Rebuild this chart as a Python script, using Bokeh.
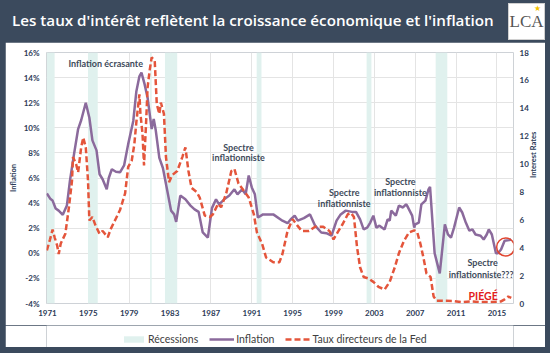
import math
from bokeh.plotting import figure
from bokeh.models import (Range1d, LinearAxis, FixedTicker, PrintfTickFormatter, Label,
                          Legend, LegendItem, Div, Spacer)
from bokeh.layouts import column, row
from bokeh.embed import file_html
from bokeh.resources import INLINE

# ---------------- data ----------------
infl_years = [1970.94, 1971.3, 1971.5, 1971.8, 1972.1, 1972.5, 1972.9, 1973.2, 1973.6, 1974.0,
              1974.3, 1974.75, 1975.1, 1975.4, 1975.8, 1976.1, 1976.4, 1976.8, 1977.0, 1977.3,
              1977.7, 1978.1, 1978.5, 1978.9, 1979.4, 1979.7, 1980.0, 1980.2, 1980.5, 1980.8,
              1981.2, 1981.4, 1981.6, 1981.95, 1982.3, 1982.7, 1983.1, 1983.4, 1983.6, 1984.0,
              1984.5, 1985.0, 1985.4, 1985.8, 1986.2, 1986.7, 1987.1, 1987.5, 1987.8, 1988.3,
              1988.8, 1989.3, 1989.6, 1990.05, 1990.4, 1990.7, 1991.0, 1991.3, 1991.6, 1992.1,
              1993.1, 1994.0, 1994.5, 1994.8, 1995.2, 1995.5, 1996.1, 1996.7, 1997.2, 1997.8,
              1998.3, 1998.8, 1999.3, 1999.7, 2000.2, 2000.8, 2001.2, 2001.6, 2001.95, 2002.3,
              2002.6, 2002.9, 2003.2, 2003.5, 2004.0, 2004.3, 2004.5, 2004.65, 2005.1, 2005.4,
              2005.8, 2006.1, 2006.2, 2006.7, 2006.9, 2007.0, 2007.35, 2007.6, 2008.0, 2008.3,
              2008.45, 2008.9, 2009.4, 2009.9, 2010.2, 2010.5, 2010.8, 2011.3, 2011.6, 2011.95,
              2012.3, 2012.6, 2012.9, 2013.4, 2013.7, 2014.0, 2014.2, 2014.5, 2014.9, 2015.1,
              2015.4, 2015.75, 2016.2, 2016.4]
infl_values = [4.77, 4.32, 4.2, 3.57, 3.4, 3.07, 3.8, 5.78, 7.9, 9.9,
               10.6, 12.0, 10.8, 9.0, 8.2, 6.3, 5.9, 5.1, 6.0, 6.7,
               6.5, 6.45, 7.0, 8.7, 10.55, 12.9, 14.1, 14.4, 13.5, 12.4,
               9.9, 10.7, 9.8, 7.6, 6.8, 5.1, 3.4, 3.1, 2.5, 4.6,
               4.3, 3.8, 3.5, 3.3, 1.66, 1.25, 3.6, 4.3, 3.9, 4.3,
               4.6, 5.1, 4.7, 5.1, 4.7, 6.2, 5.25, 4.7, 2.85, 3.1,
               3.1, 2.6, 2.4, 2.7, 3.0, 2.6, 2.8, 3.1, 2.2, 1.66,
               1.6, 1.4, 2.6, 3.1, 3.4, 3.3, 3.3, 2.7, 1.9, 2.05,
               2.45, 3.0, 2.05, 2.2, 1.9, 2.7, 2.6, 3.4, 3.0, 3.8,
               3.65, 3.9, 3.8, 3.0, 2.05, 2.3, 2.45, 3.9, 4.2, 5.1,
               5.3, 0.0, -1.6, 2.3, 1.5, 1.25, 2.05, 3.65, 3.25, 2.45,
               1.8, 1.9, 1.5, 1.4, 1.1, 1.5, 1.9, 1.5, 0.0, 0.0,
               0.3, 1.0, 1.05, 1.1]

fed_years = [1970.94, 1971.25, 1971.5, 1971.7, 1971.95, 1972.1, 1972.3, 1972.75, 1973.1, 1973.4,
             1973.5, 1973.8, 1974.0, 1974.3, 1974.5, 1974.75, 1974.97, 1975.1, 1975.4, 1975.7,
             1976.1, 1976.4, 1976.9, 1977.2, 1977.7, 1978.1, 1978.6, 1978.9, 1979.25, 1979.5,
             1979.7, 1980.0, 1980.1, 1980.3, 1980.45, 1980.65, 1980.8, 1981.0, 1981.2, 1981.5,
             1981.7, 1981.95, 1982.1, 1982.4, 1982.6, 1982.9, 1983.2, 1983.7, 1984.2, 1984.5,
             1984.8, 1985.1, 1985.6, 1985.9, 1986.4, 1986.9, 1987.2, 1987.7, 1988.0, 1988.5,
             1989.0, 1989.3, 1989.7, 1990.2, 1990.7, 1991.2, 1991.5, 1992.0, 1992.4, 1993.1,
             1993.7, 1994.0, 1994.5, 1995.0, 1995.45, 1995.9, 1996.6, 1997.2, 1998.0, 1998.6,
             1999.0, 1999.4, 1999.9, 2000.4, 2000.7, 2001.0, 2001.3, 2001.6, 2001.95, 2002.4,
             2002.9, 2003.4, 2004.0, 2004.5, 2005.0, 2005.4, 2005.9, 2006.4, 2006.9, 2007.2,
             2007.5, 2007.8, 2008.1, 2008.5, 2008.8, 2009.1, 2009.7, 2010.7, 2011.6, 2012.6,
             2013.5, 2014.5, 2015.4, 2015.75, 2016.1, 2016.4]
fed_values = [3.8, 4.6, 5.3, 4.75, 4.15, 3.55, 4.3, 5.0, 6.9, 8.8,
              10.5, 10.0, 9.4, 11.2, 11.9, 11.2, 8.8, 5.95, 6.2, 5.6,
              5.0, 5.2, 4.75, 5.35, 6.1, 6.7, 7.9, 9.8, 10.25, 11.4,
              13.0, 15.0, 13.6, 12.2, 9.9, 12.9, 15.5, 16.7, 17.65, 17.4,
              14.3, 13.6, 14.4, 13.6, 10.5, 8.7, 9.2, 9.5, 10.5, 11.2,
              9.5, 8.3, 8.0, 7.6, 6.3, 6.2, 6.4, 7.15, 6.9, 7.9,
              9.5, 9.65, 8.6, 8.1, 7.6, 6.4, 5.1, 4.3, 3.3, 2.96,
              2.96, 3.55, 5.2, 6.05, 5.6, 5.2, 5.2, 5.5, 5.5, 5.2,
              4.6, 5.1, 5.7, 6.4, 6.5, 6.2, 4.05, 2.6, 1.9, 1.8,
              1.55, 1.2, 1.0, 1.55, 2.6, 3.6, 4.5, 5.1, 5.25, 5.1,
              4.3, 3.3, 2.15, 1.9, 0.5, 0.2, 0.2, 0.18, 0.1, 0.15,
              0.1, 0.1, 0.15, 0.3, 0.5, 0.4]

recession_start = [1970.93, 1974.97, 1981.05, 1982.5, 1991.48, 2002.24, 2009.0]
recession_end = [1971.7, 1975.92, 1981.2, 1983.7, 1991.95, 2002.71, 2010.14]

x_ticks = [1971, 1975, 1979, 1983, 1987, 1991, 1995, 1999, 2003, 2007, 2011, 2015]
left_ticks = [-4, -2, 0, 2, 4, 6, 8, 10, 12, 14, 16]
right_ticks = [0, 2, 4, 6, 8, 10, 12, 14, 16, 18]

title_text = "Les taux d'intérêt reflètent la croissance économique et l'inflation"
legend_labels = ["Récessions", "Inflation", "Taux directeurs de la Fed"]

# ---------------- styling ----------------
DARK = "#3b4a5d"
NAVY = "#2c3b57"
PURPLE = "#8b6a9c"
RED = "#e4553b"
REC = "#e0f1ee"
GRID = "#e4e4e4"
ANN = "#3e4a5a"

W, H = 550, 353
TOP_BAR = 42
SIDE = 5
BOTTOM_BAR = 6
PW = W - 2 * SIDE                 # white panel width
PH = 283                          # main figure height (frame + x axis)
LH = H - TOP_BAR - BOTTOM_BAR - PH  # legend strip height
FL, FR, FT, FB = 34, 514, 10, 261  # frame inside the main figure
PX_PER_YEAR = 10.5
x0 = 1971 - (40 - SIDE - FL) / PX_PER_YEAR
x1 = x0 + (FR - FL) / PX_PER_YEAR

p = figure(width=PW, height=PH, output_backend="svg", toolbar_location=None,
           x_range=Range1d(x0, x1), y_range=Range1d(-4, 16),
           min_border_left=FL, min_border_right=PW - FR, min_border_top=FT,
           min_border_bottom=PH - FB, margin=0)
p.title.visible = False
p.extra_y_ranges = {"rates": Range1d(0, 18)}
p.background_fill_color = "white"
p.border_fill_color = "white"
p.outline_line_color = None


def style_axis(ax):
    ax.axis_line_color = None
    ax.major_tick_line_color = None
    ax.minor_tick_line_color = None
    ax.major_tick_out = 0
    ax.major_tick_in = 0
    ax.minor_tick_out = 0
    ax.minor_tick_in = 0
    ax.major_label_text_font = "Lato"
    ax.major_label_text_font_style = "bold"
    ax.major_label_text_font_size = "8px"
    ax.major_label_text_color = NAVY
    ax.axis_label_text_font = "Lato"
    ax.axis_label_text_font_style = "bold"
    ax.axis_label_text_font_size = "7.5px"
    ax.axis_label_text_color = NAVY


xa = p.xaxis[0]
xa.ticker = FixedTicker(ticks=x_ticks)
style_axis(xa)
xa.major_label_standoff = 6

ya = p.yaxis[0]
ya.ticker = FixedTicker(ticks=left_ticks)
ya.formatter = PrintfTickFormatter(format="%d%%")
ya.axis_label = "Inflation"
style_axis(ya)
ya.major_label_standoff = 7
ya.axis_label_standoff = 3

ra = LinearAxis(y_range_name="rates", ticker=FixedTicker(ticks=right_ticks), axis_label="Interest Rates")
style_axis(ra)
ra.major_label_standoff = 6
ra.axis_label_standoff = 2
try:
    ra.axis_label_orientation = math.pi / 2
except Exception:
    pass
p.add_layout(ra, "right")

p.xgrid.ticker = FixedTicker(ticks=x_ticks)
p.ygrid.ticker = FixedTicker(ticks=left_ticks)
p.xgrid.grid_line_color = GRID
p.ygrid.grid_line_color = GRID

# data glyphs
rec_style = dict(fill_color=REC, line_color=None)
infl_style = dict(line_color=PURPLE, line_width=2.5)
fed_style = dict(line_color=RED, line_width=2.5, line_dash="6 3")

p.quad(left=recession_start, right=recession_end, bottom=left_ticks[0], top=left_ticks[-1], **rec_style)
p.line(infl_years, infl_values, **infl_style)
p.line(fed_years, fed_values, y_range_name="rates", **fed_style)

# red circle around the latest inflation reading
circle_year, circle_level = 2015.85, 0.5
p.scatter([circle_year], [circle_level], marker="circle", size=18, fill_color=None,
          line_color="#e0442e", line_width=1.5)


def ann(text, x, y, size="9px", color=ANN):
    p.add_layout(Label(x=x, y=y, text=text, text_align="center", text_baseline="middle",
                       text_font="Lato", text_font_style="bold", text_font_size=size,
                       text_color=color))


ann("Inflation écrasante", 1976.7, 15.1)
ann("Spectre", 1989.7, 8.4)
ann("inflationniste", 1989.7, 7.6)
ann("Spectre", 2000.05, 4.82)
ann("inflationniste", 2000.05, 3.94)
ann("Spectre", 2005.55, 5.7)
ann("inflationniste", 2005.55, 4.82)
ann("Spectre", 2013.6, -0.76)
ann("inflationniste???", 2013.45, -1.7)
ann("PIÉGÉ", 2013.65, -3.4, size="10.5px", color="#e2201c")

# ---------------- legend strip ----------------
# The same series are drawn again, but this strip's ranges lie outside the data,
# so only the legend (which needs data-bearing renderers) is visible.
lg = figure(width=PW, height=LH, output_backend="svg", toolbar_location=None,
            x_axis_type=None, y_axis_type=None, min_border=0, margin=0,
            x_range=Range1d(0, 1), y_range=Range1d(0, 1))
lg.title.visible = False
lg.outline_line_color = None
lg.background_fill_color = "white"
lg.border_fill_color = "white"
lg.xgrid.visible = False
lg.ygrid.visible = False
r_rec = lg.quad(left=recession_start, right=recession_end, bottom=left_ticks[0], top=left_ticks[-1],
                **rec_style)
r_infl = lg.line(infl_years, infl_values, **infl_style)
r_fed = lg.line(fed_years, fed_values, **fed_style)
legend = Legend(items=[LegendItem(label=legend_labels[0], renderers=[r_rec]),
                       LegendItem(label=legend_labels[1], renderers=[r_infl]),
                       LegendItem(label=legend_labels[2], renderers=[r_fed])],
                location=(75, 2), orientation="horizontal",
                background_fill_alpha=0, border_line_color=None, padding=0, margin=0,
                spacing=11, label_standoff=2, glyph_width=25, glyph_height=8,
                label_height=12, label_width=10, label_text_font="Lato", label_text_font_size="10.5px",
                label_text_color="#404040", label_text_baseline="middle")
lg.add_layout(legend)

# ---------------- title bar and frame ----------------
title_html = (
    f'<div style="position:relative;width:{W}px;height:{TOP_BAR}px;background:{DARK};overflow:hidden;">'
    f'<div style="position:absolute;left:12px;top:9px;color:white;font-family:\'Open Sans\';'
    f'font-weight:600;font-size:15.2px;line-height:22px;white-space:nowrap;">{title_text}</div>'
    f'<div style="position:absolute;left:508px;top:3px;width:37px;height:37px;background:white;'
    f'border:1px solid #d0d0d0;box-sizing:border-box;">'
    f'<div style="position:absolute;left:0;width:35px;top:8px;text-align:center;'
    f'font-family:\'Liberation Serif\';font-size:17px;line-height:20px;color:#555555;">LCA</div>'
    f'<div style="position:absolute;left:25px;top:0px;font-family:\'DejaVu Sans\';font-size:8px;'
    f'line-height:9px;color:#f2c200;">★</div>'
    f'</div></div>'
)
title_div = Div(text=title_html, width=W, height=TOP_BAR, margin=0,
                styles={"background-color": DARK})

PANEL_H = PH + LH
left_pad = Spacer(width=SIDE, height=PANEL_H, margin=0, styles={"background-color": DARK})
right_pad = Spacer(width=SIDE, height=PANEL_H, margin=0, styles={"background-color": DARK})
bottom_pad = Spacer(width=W, height=BOTTOM_BAR, margin=0, styles={"background-color": DARK})

panel = column(p, lg, spacing=0, margin=0)
layout = column(title_div, row(left_pad, panel, right_pad, spacing=0, margin=0), bottom_pad,
                spacing=0, margin=0, styles={"background-color": DARK})

open("out.html", "w").write(file_html(layout, INLINE))
